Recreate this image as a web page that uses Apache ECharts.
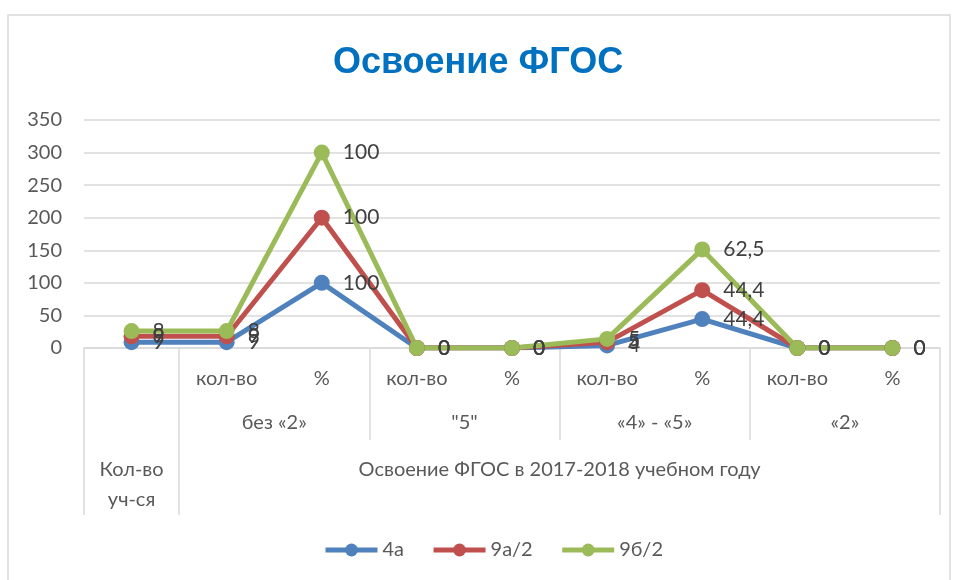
<!DOCTYPE html>
<html>
<head>
<meta charset="utf-8">
<script src="https://cdn.jsdelivr.net/npm/echarts@6/dist/echarts.min.js"></script>
<style>html,body{margin:0;padding:0;background:#fff}#c{width:956px;height:580px}</style>
</head>
<body>
<div id="c"></div>
<script>
const titleText = 'Освоение ФГОС';
const level1 = ['', 'кол-во', '%', 'кол-во', '%', 'кол-во', '%', 'кол-во', '%'];
const level2Pos = [2, 4, 6, 8];
const level2 = ['без «2»', '"5"', '«4» - «5»', '«2»'];
const level3Pos = [0.5, 5];
const level3 = ['Кол-во\nуч-ся', 'Освоение ФГОС в 2017-2018 учебном году'];
const seriesNames = ['4а', '9а/2', '9б/2'];
const s4a = [9, 9, 100, 0, 0, 4, 44.4, 0, 0];
const s9a = [9, 9, 100, 0, 0, 5, 44.4, 0, 0];
const s9b = [8, 8, 100, 0, 0, 5, 62.5, 0, 0];
const colors = ['#4f81bd', '#c0504d', '#9bbb59'];
const yTicks = [0, 50, 100, 150, 200, 250, 300, 350];

const FONT = 'Lato';
const FS = 20;
const chart = echarts.init(document.getElementById('c'));
const mk = (name, data, color) => ({
  name, type: 'line', stack: 'total', data, xAxisIndex: 0,
  symbol: 'circle', symbolSize: 16,
  lineStyle: { width: 5, color }, itemStyle: { color },
  label: { show: true, position: 'right', distance: 13, color: '#404040', fontSize: 21, fontFamily: FONT,
    formatter: p => String(p.value).replace('.', ',') },
  emphasis: { disabled: true }, animation: false
});
chart.setOption({
  animation: false,
  title: { text: titleText, left: 'center', top: 40, textStyle: { color: '#0070c0', fontSize: 36, fontWeight: 'bold', fontFamily: 'Liberation Sans' } },
  graphic: [{ type: 'rect', shape: { x: 8, y: 15, width: 942, height: 600 }, style: { fill: 'none', stroke: '#d9d9d9', lineWidth: 1.5 }, silent: true }],
  grid: { left: 84, right: 16, top: 120, bottom: 232 },
  legend: { bottom: 15, left: 318, itemWidth: 52, itemHeight: 16, itemGap: 27,
    lineStyle: { width: 5 },
    textStyle: { fontSize: FS, color: '#595959', fontFamily: FONT }, data: seriesNames },
  xAxis: [
    { type: 'category', data: level1, boundaryGap: true,
      axisLine: { lineStyle: { color: '#d9d9d9', width: 1.5 } }, axisTick: { show: false },
      axisLabel: { color: '#595959', fontSize: FS, fontFamily: FONT, margin: 21, interval: 0 } },
    { type: 'value', min: 0, max: 9, position: 'bottom', splitLine: { show: false }, axisLine: { show: false },
      axisTick: { show: true, customValues: [0, 1, 3, 5, 7, 9], length: 92, lineStyle: { color: '#d9d9d9', width: 1.5 } },
      axisLabel: { customValues: level2Pos, margin: 65, color: '#595959', fontSize: FS, fontFamily: FONT,
        formatter: v => level2[level2Pos.indexOf(v)] || '' } },
    { type: 'value', min: 0, max: 9, position: 'bottom', splitLine: { show: false }, axisLine: { show: false },
      axisTick: { show: true, customValues: [0, 1, 9], length: 167, lineStyle: { color: '#d9d9d9', width: 1.5 } },
      axisLabel: { customValues: level3Pos, margin: 107, color: '#595959', fontSize: FS, lineHeight: 30, fontFamily: FONT,
        formatter: v => level3[level3Pos.indexOf(v)] || '' } }
  ],
  yAxis: { type: 'value', min: 0, max: 350, interval: 50,
    axisLine: { show: false }, axisTick: { show: false },
    splitLine: { lineStyle: { color: '#d9d9d9', width: 1.5 } },
    axisLabel: { color: '#595959', fontSize: FS, fontFamily: FONT, margin: 22,
      customValues: yTicks } },
  series: [mk(seriesNames[0], s4a, colors[0]), mk(seriesNames[1], s9a, colors[1]), mk(seriesNames[2], s9b, colors[2])]
});
</script>
</body>
</html>
